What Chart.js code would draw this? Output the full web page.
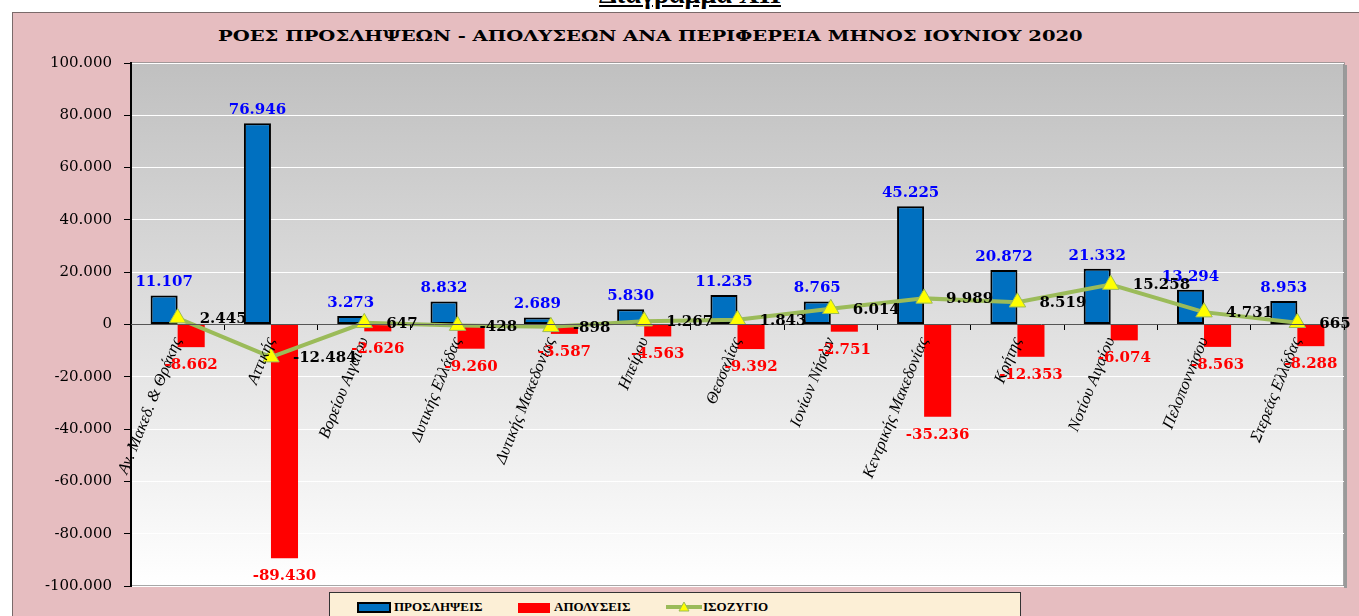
<!DOCTYPE html>
<html>
<head>
<meta charset="utf-8">
<script src="https://cdn.jsdelivr.net/npm/chart.js@4/dist/chart.umd.min.js"></script>
<style>
  html, body { margin: 0; padding: 0; background: #fff; overflow: hidden; }
  #wrap { position: relative; width: 1359px; height: 616px; overflow: hidden; }
  #frame { position: absolute; left: 12px; top: 12px; width: 1360px; height: 620px;
           background: #e6bdc0; border-left: 1px solid #7a6a6a; border-top: 1px solid #7a6a6a; }
  #head { position: absolute; left: 0; width: 1380px; top: -20px; text-align: center;
          font: bold 28px "Liberation Serif"; line-height: 28px; text-decoration: underline; }
  #title { position: absolute; left: 218px; top: 27px; white-space: nowrap; transform-origin: 0 50%;
           font: bold 15px "DejaVu Serif"; color: #000; }
  #myChart { position: absolute; left: 0; top: 0; }
  #legend { position: absolute; left: 329px; top: 592px; width: 690px; height: 32px;
            background: #fcefd6; border: 1px solid #333; font: bold 13px "Liberation Serif"; }
  .txt { position: absolute; top: 6px; white-space: nowrap; }
</style>
</head>
<body>
<div id="wrap">
  <div id="frame"></div>
  <div id="head">Διάγραμμα XII</div>
  <span id="title">ΡΟΕΣ ΠΡΟΣΛΗΨΕΩΝ - ΑΠΟΛΥΣΕΩΝ ΑΝΑ ΠΕΡΙΦΕΡΕΙΑ ΜΗΝΟΣ ΙΟΥΝΙΟΥ 2020</span>
  <canvas id="myChart" width="1359" height="616"></canvas>
  <div id="legend">
    <div style="position:absolute;left:27px;top:9px;width:30px;height:7px;background:#0070c0;border:2px solid #000;"></div>
    <div class="txt" style="left:64px;">ΠΡΟΣΛΗΨΕΙΣ</div>
    <div style="position:absolute;left:188px;top:10px;width:32px;height:10px;background:#ff0000;"></div>
    <div class="txt" style="left:224px;">ΑΠΟΛΥΣΕΙΣ</div>
    <svg style="position:absolute;left:335px;top:6px;" width="38" height="16">
      <line x1="1" y1="8" x2="37" y2="8" stroke="#9bbb59" stroke-width="4"/>
      <polygon points="19,3 24,12 14,12" fill="#ffff00" stroke="#9bbb59" stroke-width="1"/>
    </svg>
    <div class="txt" style="left:373px;">ΙΣΟΖΥΓΙΟ</div>
  </div>
</div>
<script>
var categories = ["Αν. Μακεδ. & Θράκης", "Αττικής", "Βορείου Αιγαίου", "Δυτικής Ελλάδας",
  "Δυτικής Μακεδονίας", "Ηπείρου", "Θεσσαλίας", "Ιονίων Νήσων", "Κεντρικής Μακεδονίας",
  "Κρήτης", "Νοτίου Αιγαίου", "Πελοποννήσου", "Στερεάς Ελλάδας"];
var hires = [11107, 76946, 3273, 8832, 2689, 5830, 11235, 8765, 45225, 20872, 21332, 13294, 8953];
var fires = [-8662, -89430, -2626, -9260, -3587, -4563, -9392, -2751, -35236, -12353, -6074, -8563, -8288];
var balance = [2445, -12484, 647, -428, -898, 1267, 1843, 6014, 9989, 8519, 15258, 4731, 665];

// the original title uses a wide serif, stretch ours to the same width
var t = document.getElementById('title');
t.style.transform = 'scaleX(' + (865 / t.offsetWidth) + ')';

// greek style thousands: 11.107
function fmt(v) {
  var s = Math.abs(v).toString().replace(/\B(?=(\d{3})+(?!\d))/g, '.');
  return (v < 0 ? '-' : '') + s;
}

// gray to white plot background + border
var plotBg = {
  id: 'plotBg',
  beforeDraw: function (chart) {
    var a = chart.chartArea, ctx = chart.ctx;
    var g = ctx.createLinearGradient(0, a.top, 0, a.bottom);
    g.addColorStop(0, '#c0c0c0');
    g.addColorStop(1, '#ffffff');
    ctx.save();
    ctx.fillStyle = g;
    ctx.fillRect(a.left, a.top, a.right - a.left, a.bottom - a.top);
    ctx.strokeStyle = '#8a8a8a';
    ctx.lineWidth = 1.5;
    ctx.strokeRect(a.left, a.top, a.right - a.left, a.bottom - a.top);
    ctx.fillStyle = '#9a9a9a';
    ctx.fillRect(a.right, a.top + 2, 3, a.bottom - a.top);
    ctx.restore();
  }
};

// value labels
var valueLabels = {
  id: 'valueLabels',
  afterDraw: function (chart) {
    var ctx = chart.ctx;
    ctx.save();
    ctx.font = 'bold 15px "DejaVu Serif"';
    ctx.textBaseline = 'middle';
    chart.getDatasetMeta(1).data.forEach(function (el, i) {
      ctx.fillStyle = '#0000ff';
      ctx.textAlign = 'center';
      ctx.fillText(fmt(hires[i]), el.x, el.y - 13);
    });
    chart.getDatasetMeta(2).data.forEach(function (el, i) {
      ctx.fillStyle = '#ff0000';
      ctx.textAlign = 'center';
      ctx.fillText(fmt(fires[i]), el.x, el.y + 18);
    });
    chart.getDatasetMeta(0).data.forEach(function (el, i) {
      ctx.fillStyle = '#000000';
      ctx.textAlign = 'left';
      ctx.fillText(fmt(balance[i]), el.x + 22, el.y + 1);
    });
    ctx.restore();
  }
};

var ctx = document.getElementById('myChart');
var myChart = new Chart(ctx, {
  type: 'bar',
  data: {
    labels: categories,
    datasets: [
      {
        type: 'line',
        label: 'ΙΣΟΖΥΓΙΟ',
        data: balance,
        order: 0,
        borderColor: '#9bbb59',
        borderWidth: 4,
        tension: 0,
        pointStyle: 'triangle',
        pointRadius: 9.5,
        pointBackgroundColor: '#ffff00',
        pointBorderColor: '#9bbb59',
        pointBorderWidth: 1
      },
      {
        label: 'ΠΡΟΣΛΗΨΕΙΣ',
        data: hires,
        order: 1,
        backgroundColor: '#0070c0',
        borderColor: '#000000',
        borderWidth: 2,
        borderSkipped: false
      },
      {
        label: 'ΑΠΟΛΥΣΕΙΣ',
        data: fires,
        order: 2,
        backgroundColor: '#ff0000',
        borderWidth: 0
      }
    ]
  },
  options: {
    responsive: false,
    animation: false,
    devicePixelRatio: 1,
    categoryPercentage: 0.58,
    barPercentage: 1,
    layout: { padding: { left: 0, right: 15, top: 63, bottom: 30 } },
    plugins: {
      legend: { display: false },
      title: { display: false },
      tooltip: { enabled: false }
    },
    scales: {
      x: {
        position: { y: 0 },
        offset: true,
        grid: { drawOnChartArea: false, offset: true, tickLength: 5, color: '#000', z: 1 },
        border: { color: '#555555', width: 1, z: 1 },
        ticks: {
          z: 1,
          autoSkip: false,
          minRotation: 68,
          maxRotation: 68,
          padding: 5,
          color: '#000',
          font: { family: 'Liberation Serif', style: 'italic', size: 16.5 }
        },
        afterFit: function (s) { s.paddingLeft = 0; s.paddingRight = 0; }
      },
      y: {
        min: -100000,
        max: 100000,
        ticks: {
          stepSize: 20000,
          callback: function (v) { return fmt(v); },
          color: '#000',
          padding: 12,
          font: { family: 'DejaVu Serif', size: 15 }
        },
        grid: { color: '#ffffff', tickColor: '#000', tickLength: 7, lineWidth: 1 },
        border: { color: '#000', width: 2 },
        afterFit: function (s) { s.width = 131; s.paddingTop = 0; s.paddingBottom = 0; }
      }
    }
  },
  plugins: [plotBg, valueLabels]
});
</script>
</body>
</html>
